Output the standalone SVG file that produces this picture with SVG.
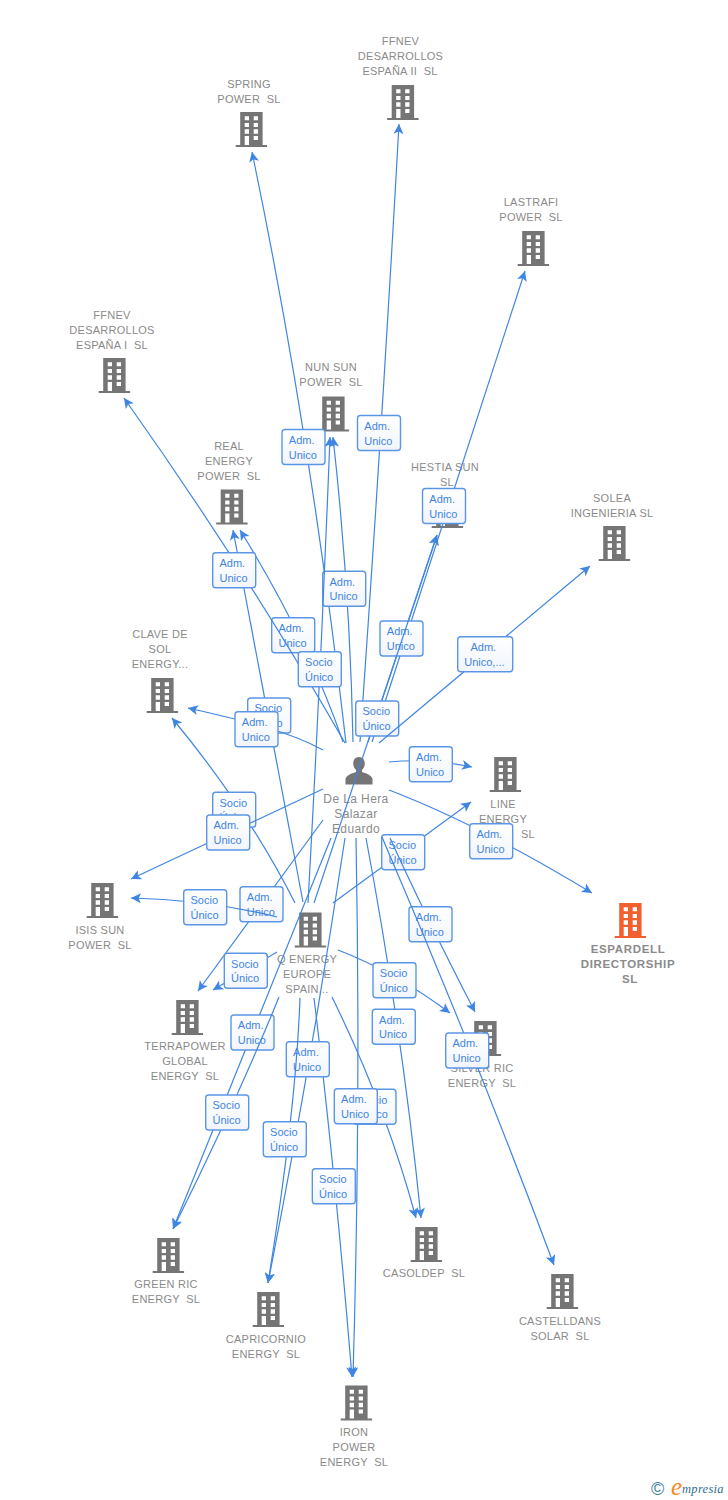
<svg xmlns="http://www.w3.org/2000/svg" width="728" height="1500" viewBox="0 0 728 1500">
<style>
text{font-family:"Liberation Sans",Arial,sans-serif;white-space:pre}
.n{font-size:11px;fill:#8a8a8a;text-anchor:middle;letter-spacing:.25px}
.p{font-size:12px;fill:#8a8a8a;text-anchor:middle;letter-spacing:.4px}
.m{font-size:11.5px;font-weight:bold;fill:#8a8a8a;text-anchor:middle;letter-spacing:.65px}
.e{fill:none;stroke:#3f85e3;stroke-width:1.2;marker-end:url(#a)}
.b{fill:url(#g);stroke:#5b96e6;stroke-width:1.4}
.t{font-size:11px;fill:#3f85e3}
</style>
<defs>
<linearGradient id="g" x1="0" y1="0" x2="0" y2="1"><stop offset="0" stop-color="#ffffff"/><stop offset="1" stop-color="#f1f5fb"/></linearGradient>
<marker id="a" markerUnits="userSpaceOnUse" markerWidth="12" markerHeight="12" viewBox="0 0 12 12" refX="11" refY="6" orient="auto"><path d="M11 6L1 1L3.500 6L1 11Z" fill="#3f85e3"/></marker>
<path id="w" fill-rule="evenodd" d="M-10.800-17H11.600V16H16.100V18H-15.300V16H-10.800ZM-6.300-12.700V-8.700H-2V-12.700ZM2.700-12.700V-8.700H7V-12.700ZM-6.300-6V-2H-2V-6ZM2.700-6V-2H7V-6ZM-6.300 .3V4.700H-2V.3ZM2.700 .3V4.700H7V.3ZM-6.300 7V16H-2V7ZM2.700 7V11H7V7Z"/>
</defs>
<g id="nodes">
<g id="n-spring"><use href="#w" x="251" y="129" fill="#757575"/><text class="n" x="249" y="88">SPRING</text><text class="n" x="249" y="103">POWER  SL</text></g>
<g id="n-ffnev2"><use href="#w" x="402.500" y="102" fill="#757575"/><text class="n" x="400.500" y="45">FFNEV</text><text class="n" x="400.500" y="60">DESARROLLOS</text><text class="n" x="400" y="75">ESPAÑA II  SL</text></g>
<g id="n-lastrafi"><use href="#w" x="533" y="248" fill="#757575"/><text class="n" x="531" y="206">LASTRAFI</text><text class="n" x="531" y="221">POWER  SL</text></g>
<g id="n-ffnev1"><use href="#w" x="114" y="375" fill="#757575"/><text class="n" x="112" y="319">FFNEV</text><text class="n" x="112" y="334">DESARROLLOS</text><text class="n" x="112" y="349">ESPAÑA I  SL</text></g>
<g id="n-nunsun"><use href="#w" x="333" y="413.500" fill="#757575"/><text class="n" x="331" y="371">NUN SUN</text><text class="n" x="331" y="386">POWER  SL</text></g>
<g id="n-real"><use href="#w" x="231.500" y="506.500" fill="#757575"/><text class="n" x="229" y="450">REAL</text><text class="n" x="229" y="465">ENERGY</text><text class="n" x="229" y="480">POWER  SL</text></g>
<g id="n-hestia"><use href="#w" x="447" y="510" fill="#757575"/><text class="n" x="445" y="471">HESTIA SUN</text><text class="n" x="447" y="486">SL</text></g>
<g id="n-solea"><use href="#w" x="614" y="543" fill="#757575"/><text class="n" x="612" y="502">SOLEA</text><text class="n" x="612" y="517">INGENIERIA SL</text></g>
<g id="n-clave"><use href="#w" x="162" y="695" fill="#757575"/><text class="n" x="160" y="638">CLAVE DE</text><text class="n" x="160" y="653">SOL</text><text class="n" x="160" y="668">ENERGY...</text></g>
<g id="n-line"><use href="#w" x="505" y="774" fill="#757575"/><text class="n" x="503" y="808">LINE</text><text class="n" x="503" y="823">ENERGY</text><text class="n" x="528" y="838">SL</text></g>
<g id="n-espardell"><use href="#w" x="630" y="920" fill="#f26030"/><text class="m" x="628" y="953">ESPARDELL</text><text class="m" x="628" y="968">DIRECTORSHIP</text><text class="m" x="630" y="983">SL</text></g>
<g id="n-isis"><use href="#w" x="102" y="900" fill="#757575"/><text class="n" x="100" y="934">ISIS SUN</text><text class="n" x="100" y="949">POWER  SL</text></g>
<g id="n-qenergy"><use href="#w" x="310" y="929.500" fill="#757575"/><text class="n" x="307" y="963">Q ENERGY</text><text class="n" x="307" y="978">EUROPE</text><text class="n" x="307" y="993">SPAIN...</text></g>
<g id="n-terrapower"><use href="#w" x="187" y="1017" fill="#757575"/><text class="n" x="185" y="1050">TERRAPOWER</text><text class="n" x="185" y="1065">GLOBAL</text><text class="n" x="185" y="1080">ENERGY  SL</text></g>
<g id="n-silver"><use href="#w" x="485" y="1038" fill="#757575"/><text class="n" x="482" y="1072">SILVER RIC</text><text class="n" x="482" y="1087">ENERGY  SL</text></g>
<g id="n-casoldep"><use href="#w" x="426" y="1244" fill="#757575"/><text class="n" x="424" y="1277">CASOLDEP  SL</text></g>
<g id="n-green"><use href="#w" x="168" y="1255" fill="#757575"/><text class="n" x="166" y="1288">GREEN RIC</text><text class="n" x="166" y="1303">ENERGY  SL</text></g>
<g id="n-castelldans"><use href="#w" x="562" y="1291" fill="#757575"/><text class="n" x="560" y="1325">CASTELLDANS</text><text class="n" x="560" y="1340">SOLAR  SL</text></g>
<g id="n-capricornio"><use href="#w" x="268" y="1309" fill="#757575"/><text class="n" x="266" y="1343">CAPRICORNIO</text><text class="n" x="266" y="1358">ENERGY  SL</text></g>
<g id="n-iron"><use href="#w" x="356" y="1402.500" fill="#757575"/><text class="n" x="354" y="1436">IRON</text><text class="n" x="354" y="1451">POWER</text><text class="n" x="354" y="1466">ENERGY  SL</text></g>
<g id="n-person"><path d="M359 757c3.500 0 5.800 2.800 5.800 6.500 0 2.800-1.300 5-2.800 6.300v2.200c3 1.300 9.500 2.500 10.500 7v5.500h-27v-5.500c1-4.500 7.500-5.700 10.500-7v-2.200c-1.500-1.300-2.800-3.500-2.800-6.300 0-3.700 2.300-6.500 5.800-6.500Z" fill="#757575"/><text class="p" x="356" y="803">De La Hera</text><text class="p" x="356" y="818">Salazar</text><text class="p" x="356" y="833">Eduardo</text></g>
</g>
<g id="connectors">
<path class="e" d="M346 743Q310 430 252 152"/><g transform="translate(282 429.500)"><rect class="b" width="43" height="35" rx="3"/><text class="t" x="6.800" y="14.300">Adm.</text><text class="t" x="6.800" y="29">Unico</text></g>
<path class="e" d="M360 742Q382 430 399 124"/><g transform="translate(357.500 415.500)"><rect class="b" width="43" height="35" rx="3"/><text class="t" x="6.800" y="14.300">Adm.</text><text class="t" x="6.800" y="29">Unico</text></g>
<path class="e" d="M372 742L525 271"/><g transform="translate(422.500 488.500)"><rect class="b" width="43" height="35" rx="3"/><text class="t" x="6.800" y="14.300">Adm.</text><text class="t" x="6.800" y="29">Unico</text></g>
<path class="e" d="M368 742L437 535"/><g transform="translate(380 621)"><rect class="b" width="43" height="35" rx="3"/><text class="t" x="6.800" y="14.300">Adm.</text><text class="t" x="6.800" y="29">Unico</text></g>
<path class="e" d="M314 903Q376 720 437 535"/><g transform="translate(355.700 701)"><rect class="b" width="43" height="35" rx="3"/><text class="t" x="6.800" y="14.300">Socio</text><text class="t" x="6.800" y="29">Único</text></g>
<path class="e" d="M343 742Q308 640 240 530"/><g transform="translate(271.700 617.700)"><rect class="b" width="43" height="35" rx="3"/><text class="t" x="6.800" y="14.300">Adm.</text><text class="t" x="6.800" y="29">Unico</text></g>
<path class="e" d="M303 902L233 530"/><g transform="translate(247.700 698)"><rect class="b" width="43" height="35" rx="3"/><text class="t" x="6.800" y="14.300">Socio</text><text class="t" x="6.800" y="29">Único</text></g>
<path class="e" d="M345 743Q246 570 124 398"/><g transform="translate(212.700 552.700)"><rect class="b" width="43" height="35" rx="3"/><text class="t" x="6.800" y="14.300">Adm.</text><text class="t" x="6.800" y="29">Unico</text></g>
<path class="e" d="M353 742Q350 590 333 437"/><g transform="translate(322.700 571.300)"><rect class="b" width="43" height="35" rx="3"/><text class="t" x="6.800" y="14.300">Adm.</text><text class="t" x="6.800" y="29">Unico</text></g>
<path class="e" d="M308 903Q321 670 330 437"/><g transform="translate(298.300 651.700)"><rect class="b" width="43" height="35" rx="3"/><text class="t" x="6.800" y="14.300">Socio</text><text class="t" x="6.800" y="29">Único</text></g>
<path class="e" d="M295 903Q248 810 172 718"/><g transform="translate(212.700 792.300)"><rect class="b" width="43" height="35" rx="3"/><text class="t" x="6.800" y="14.300">Socio</text><text class="t" x="6.800" y="29">Único</text></g>
<path class="e" d="M323 750C290 732 250 722 188 708"/><g transform="translate(235 711.700)"><rect class="b" width="43" height="35" rx="3"/><text class="t" x="6.800" y="14.300">Adm.</text><text class="t" x="6.800" y="29">Unico</text></g>
<path class="e" d="M323 789L131 879"/><g transform="translate(206.700 815)"><rect class="b" width="43" height="35" rx="3"/><text class="t" x="6.800" y="14.300">Adm.</text><text class="t" x="6.800" y="29">Unico</text></g>
<path class="e" d="M323 820L198 991"/><g transform="translate(240 886.700)"><rect class="b" width="43" height="35" rx="3"/><text class="t" x="6.800" y="14.300">Adm.</text><text class="t" x="6.800" y="29">Unico</text></g>
<path class="e" d="M277 917Q210 900 131 898"/><g transform="translate(183.700 889.700)"><rect class="b" width="43" height="35" rx="3"/><text class="t" x="6.800" y="14.300">Socio</text><text class="t" x="6.800" y="29">Único</text></g>
<path class="e" d="M277 952L213 990"/><g transform="translate(224.300 953.300)"><rect class="b" width="43" height="35" rx="3"/><text class="t" x="6.800" y="14.300">Socio</text><text class="t" x="6.800" y="29">Único</text></g>
<path class="e" d="M389 762Q430 758 472 767"/><g transform="translate(409.300 746.700)"><rect class="b" width="43" height="35" rx="3"/><text class="t" x="6.800" y="14.300">Adm.</text><text class="t" x="6.800" y="29">Unico</text></g>
<path class="e" d="M389 790Q480 825 592 893"/><g transform="translate(469.700 823.700)"><rect class="b" width="43" height="35" rx="3"/><text class="t" x="6.800" y="14.300">Adm.</text><text class="t" x="6.800" y="29">Unico</text></g>
<path class="e" d="M379 743L590 566"/><g transform="translate(457.700 636.700)"><rect class="b" width="55" height="35" rx="3"/><text class="t" x="12.800" y="14.300">Adm.</text><text class="t" x="6.500" y="29">Unico,...</text></g>
<path class="e" d="M333 903L471 802"/><g transform="translate(381.700 834.700)"><rect class="b" width="43" height="35" rx="3"/><text class="t" x="6.800" y="14.300">Socio</text><text class="t" x="6.800" y="29">Único</text></g>
<path class="e" d="M390 838Q425 915 475 1012"/><g transform="translate(409 906.700)"><rect class="b" width="43" height="35" rx="3"/><text class="t" x="6.800" y="14.300">Adm.</text><text class="t" x="6.800" y="29">Unico</text></g>
<path class="e" d="M366 838Q402 1030 421 1218"/><g transform="translate(372.300 1009.300)"><rect class="b" width="43" height="35" rx="3"/><text class="t" x="6.800" y="14.300">Adm.</text><text class="t" x="6.800" y="29">Unico</text></g>
<path class="e" d="M338 950Q395 972 450 1013"/><g transform="translate(373 962.700)"><rect class="b" width="43" height="35" rx="3"/><text class="t" x="6.800" y="14.300">Socio</text><text class="t" x="6.800" y="29">Único</text></g>
<path class="e" d="M332 997Q386 1107 416 1218"/><g transform="translate(353 1089.300)"><rect class="b" width="43" height="35" rx="3"/><text class="t" x="6.800" y="14.300">Socio</text><text class="t" x="6.800" y="29">Único</text></g>
<path class="e" d="M356 838Q361 1100 353 1377"/><g transform="translate(334.300 1088.700)"><rect class="b" width="43" height="35" rx="3"/><text class="t" x="6.800" y="14.300">Adm.</text><text class="t" x="6.800" y="29">Unico</text></g>
<path class="e" d="M314 998Q335 1170 352 1377"/><g transform="translate(312.300 1168.700)"><rect class="b" width="43" height="35" rx="3"/><text class="t" x="6.800" y="14.300">Socio</text><text class="t" x="6.800" y="29">Único</text></g>
<path class="e" d="M345 838Q310 1070 268 1283"/><g transform="translate(286.300 1041.700)"><rect class="b" width="43" height="35" rx="3"/><text class="t" x="6.800" y="14.300">Adm.</text><text class="t" x="6.800" y="29">Unico</text></g>
<path class="e" d="M300 998Q296 1110 268 1283"/><g transform="translate(263.300 1121.700)"><rect class="b" width="43" height="35" rx="3"/><text class="t" x="6.800" y="14.300">Socio</text><text class="t" x="6.800" y="29">Único</text></g>
<path class="e" d="M331 838L173 1229"/><g transform="translate(231 1015)"><rect class="b" width="43" height="35" rx="3"/><text class="t" x="6.800" y="14.300">Adm.</text><text class="t" x="6.800" y="29">Unico</text></g>
<path class="e" d="M279 997Q235 1105 173 1229"/><g transform="translate(205.700 1095)"><rect class="b" width="43" height="35" rx="3"/><text class="t" x="6.800" y="14.300">Socio</text><text class="t" x="6.800" y="29">Único</text></g>
<path class="e" d="M382 837Q474 1051 554 1265"/><g transform="translate(445.700 1033)"><rect class="b" width="43" height="35" rx="3"/><text class="t" x="6.800" y="14.300">Adm.</text><text class="t" x="6.800" y="29">Unico</text></g>
</g>
<g id="footer"><text x="651" y="1495" font-size="18" fill="#3f7f99">©</text><text x="671" y="1495" font-size="25" font-style="italic" style="font-family:'Liberation Serif',serif" fill="#f58a1f">e</text><text x="682" y="1493" font-size="12.500" font-style="italic" style="font-family:'Liberation Serif',serif" fill="#2f6f8f" letter-spacing=".3">mpresia</text></g>
</svg>
